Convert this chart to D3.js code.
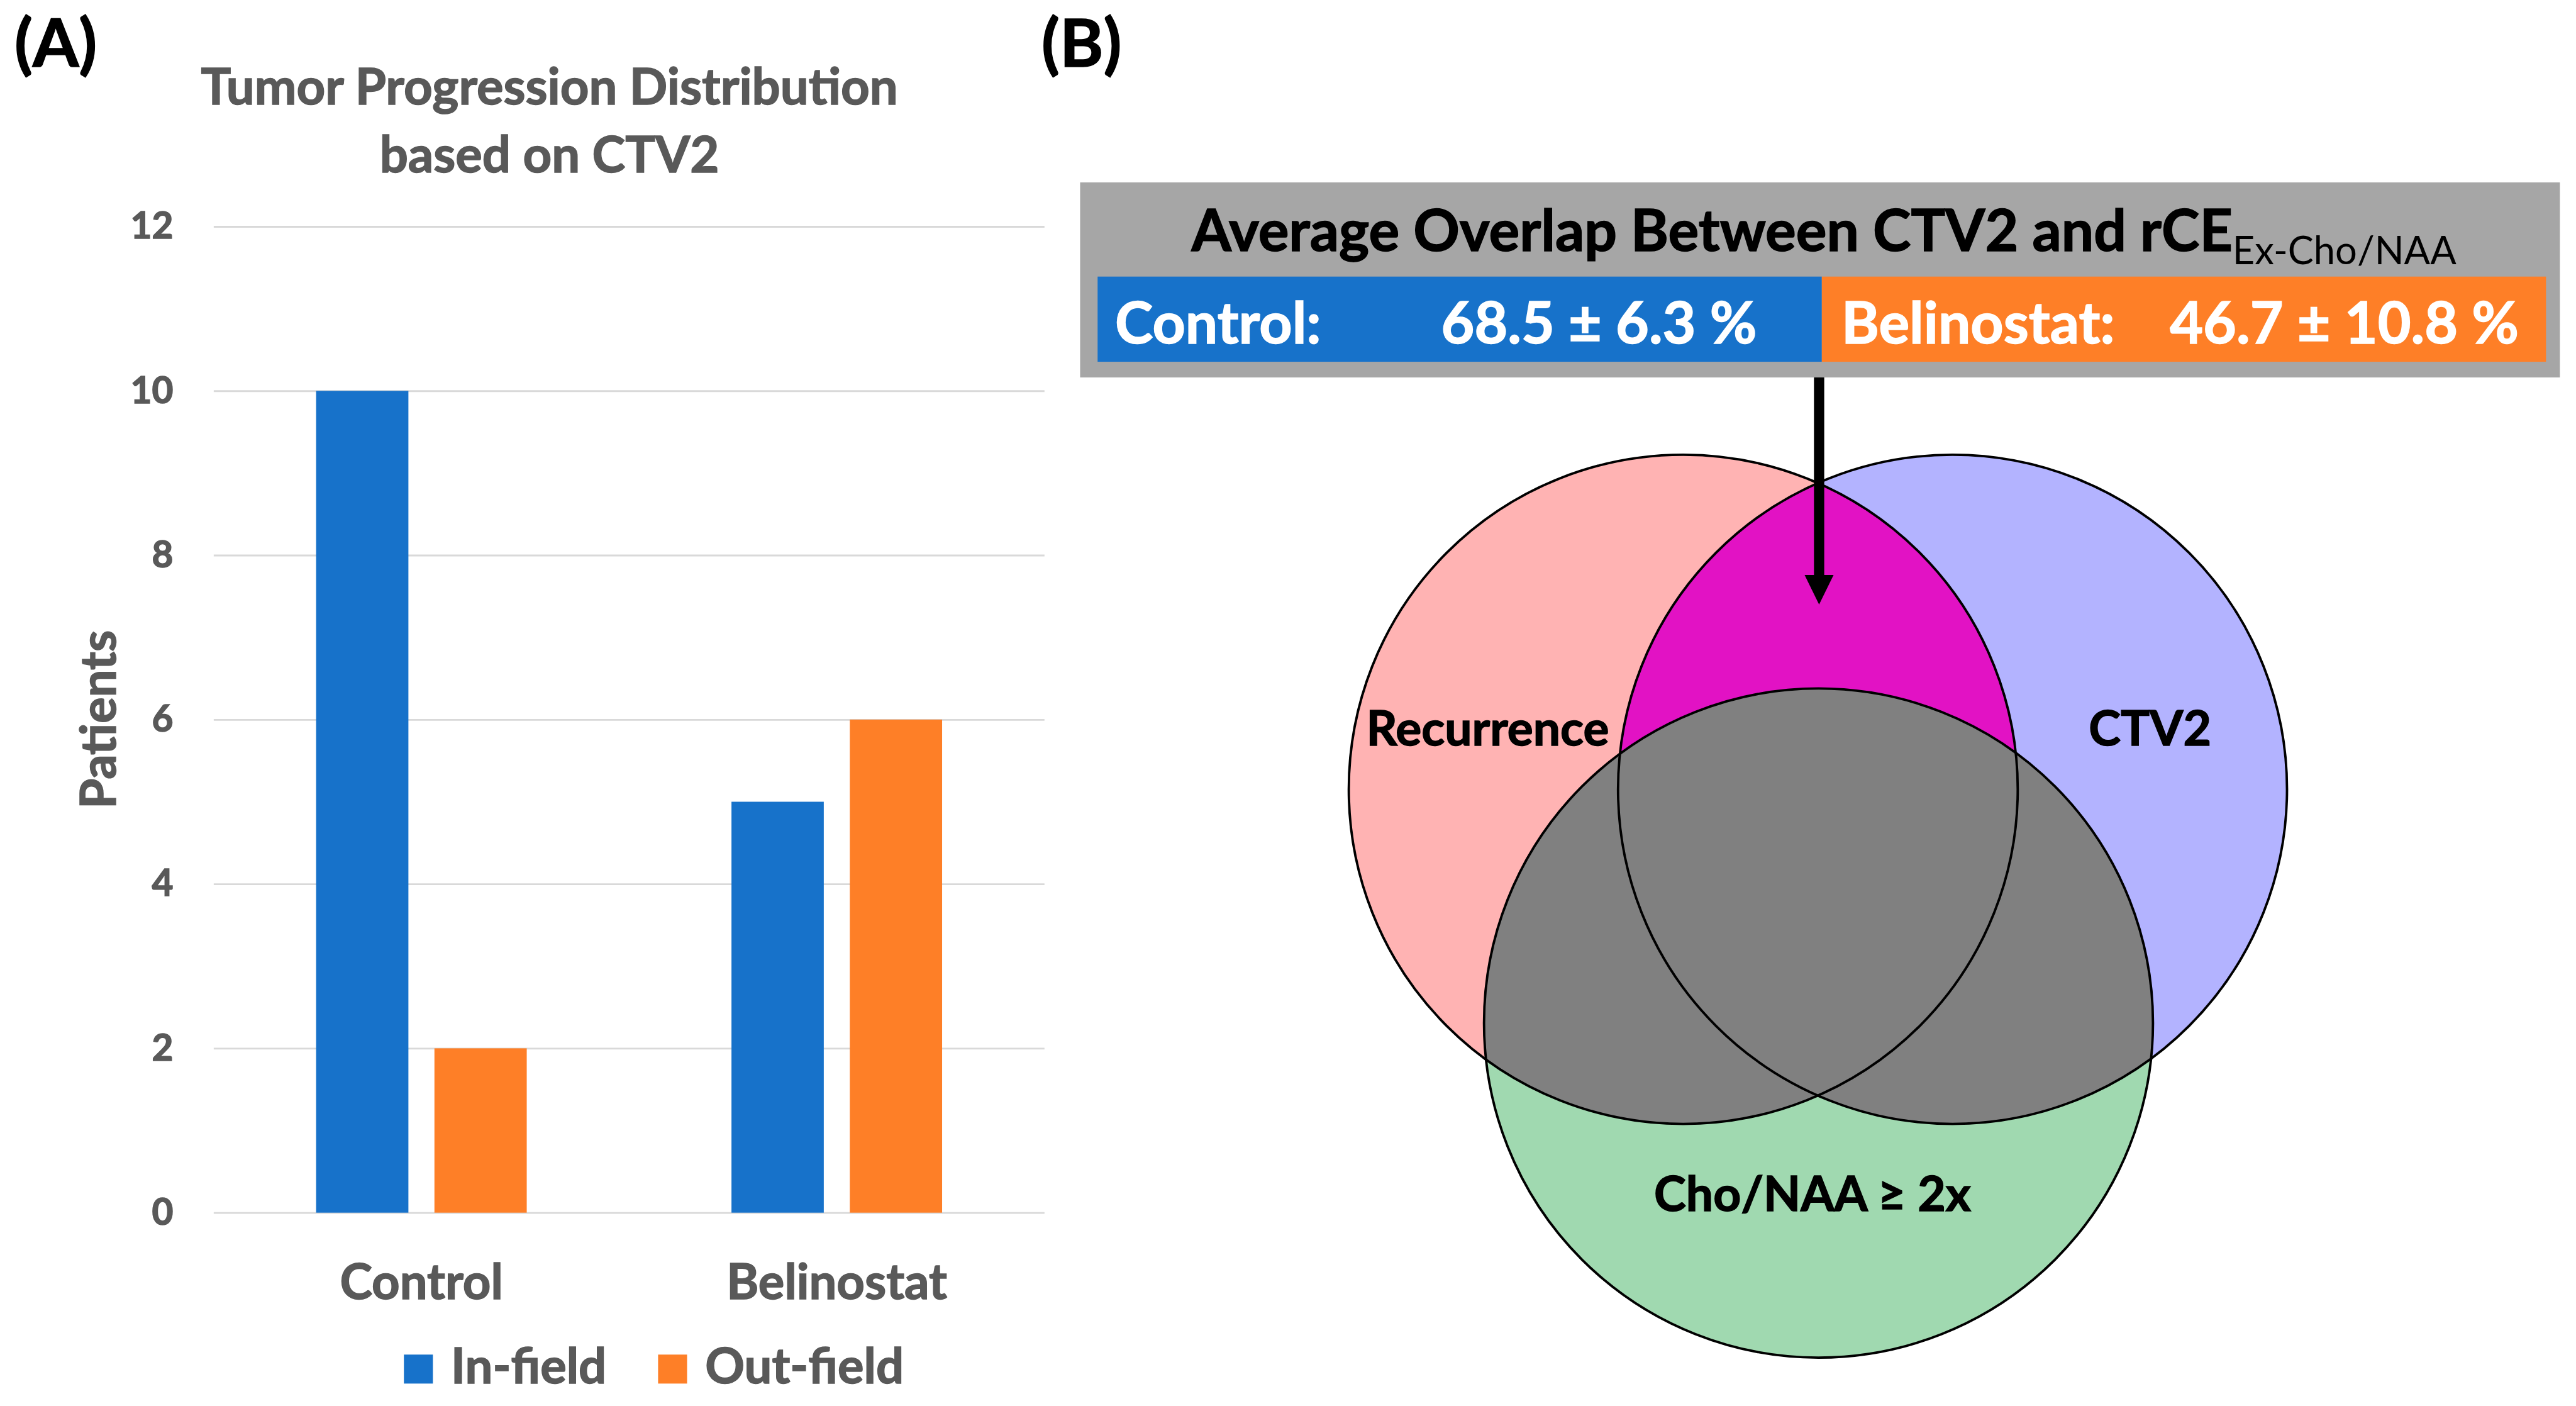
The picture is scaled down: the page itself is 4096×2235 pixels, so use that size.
<!DOCTYPE html>
<html>
<head>
<meta charset="utf-8">
<script src="https://cdn.jsdelivr.net/npm/d3@7"></script>
<style>
  html, body { margin: 0; padding: 0; background: #fff; }
  svg { display: block; }
</style>
</head>
<body>
<div id="fig"></div>
<script>
// panel A data
const categories = ["Control", "Belinostat"];
const seriesNames = ["In-field", "Out-field"];
const inField = [10, 5];
const outField = [2, 6];
const yTicks = [0, 2, 4, 6, 8, 10, 12];
const seriesColors = ["#1772CA", "#FE7F27"];

// panel B data
const overlapGroups = ["Control:", "Belinostat:"];
const overlapMean = [68.5, 46.7];
const overlapSd = [6.3, 10.8];
const vennSets = ["Recurrence", "CTV2", "Cho/NAA \u2265 2x"];
const vennFill = ["#FFB3B3", "#B3B3FF", "#A0D9B0"];

const W = 4096, H = 2235, k = 0.96;
const font = "Lato, 'Open Sans', sans-serif";
const grey = "#595959";

// lato bold is a touch lighter than the original, thicken it a little
function heavy(sel, col) {
  return sel.attr("font-family", font).attr("font-weight", 700)
      .attr("stroke", col).attr("stroke-width", 1.6).attr("paint-order", "stroke");
}

const svg = d3.select("#fig").append("svg")
    .attr("width", W).attr("height", H);
// everything laid out in reference pixels, then scaled down
const root = svg.append("g").attr("transform", "scale(" + k + ")");

// ---------- (A) bar chart ----------
const plot = { left: 354, right: 1730, top: 375, bottom: 2008 };

const y = d3.scaleLinear().domain([0, 12]).range([plot.bottom, plot.top]);
const x = d3.scaleBand().domain(categories).range([plot.left, plot.right]);
const xs = d3.scaleBand().domain(seriesNames).range([0, x.bandwidth()])
    .paddingInner(0.22).paddingOuter(0.865);

const A = root.append("g");

heavy(A.append("text").attr("x", 24).attr("y", 110), "#000")
    .attr("font-size", 110).text("(A)");

heavy(A.append("text").attr("x", 910).attr("y", 173).attr("text-anchor", "middle"), grey)
    .attr("font-size", 83).attr("fill", grey).text("Tumor Progression Distribution");
heavy(A.append("text").attr("x", 910).attr("y", 285).attr("text-anchor", "middle"), grey)
    .attr("font-size", 83).attr("fill", grey).text("based on CTV2");

const yAxis = A.append("g").attr("transform", "translate(" + plot.left + ",0)")
    .call(d3.axisLeft(y).tickValues(yTicks).tickSize(-(plot.right - plot.left)).tickPadding(67));
yAxis.select(".domain").remove();
yAxis.selectAll(".tick line").attr("stroke", "#D9D9D9").attr("stroke-width", 3);
heavy(yAxis.selectAll(".tick text"), grey).attr("fill", grey).attr("font-size", 61);

const rows = categories.map((c, i) => ({ cat: c, vals: [inField[i], outField[i]] }));
const grp = A.append("g").selectAll("g").data(rows).join("g")
    .attr("transform", d => "translate(" + x(d.cat) + ",0)");
grp.selectAll("rect").data(d => d.vals.map((v, j) => ({ s: seriesNames[j], v: v, j: j })))
    .join("rect")
    .attr("x", d => xs(d.s))
    .attr("width", xs.bandwidth())
    .attr("y", d => y(d.v))
    .attr("height", d => y(0) - y(d.v))
    .attr("fill", d => seriesColors[d.j]);

const xAxis = A.append("g").attr("transform", "translate(0," + plot.bottom + ")")
    .call(d3.axisBottom(x).tickSize(0));
xAxis.select(".domain").remove();
heavy(xAxis.selectAll(".tick text").attr("y", 143).attr("dy", null), grey)
    .attr("fill", grey).attr("font-size", 81);

heavy(A.append("text").attr("transform", "translate(192," + (plot.top + plot.bottom) / 2 + ") rotate(-90)")
    .attr("text-anchor", "middle"), grey)
    .attr("fill", grey).attr("font-size", 81)
    .text("Patients");

const legendX = [669, 1090];
const leg = A.append("g").selectAll("g").data(seriesNames).join("g")
    .attr("transform", (d, i) => "translate(" + legendX[i] + ",2243)");
leg.append("rect").attr("width", 48).attr("height", 48).attr("fill", (d, i) => seriesColors[i]);
heavy(leg.append("text").attr("x", 78).attr("y", 48), grey)
    .attr("fill", grey).attr("font-size", 81)
    .text(d => d);

// ---------- (B) overlap box + venn ----------
const B = root.append("g");

heavy(B.append("text").attr("x", 1725).attr("y", 110), "#000")
    .attr("font-size", 110).text("(B)");

B.append("rect").attr("x", 1789).attr("y", 302).attr("width", 2451).attr("height", 323)
    .attr("fill", "#A6A6A6");

const boxTitle = heavy(B.append("text").attr("x", 3021).attr("y", 416).attr("text-anchor", "middle"), "#000")
    .attr("font-size", 95);
boxTitle.append("tspan").text("Average Overlap Between CTV2 and rCE");
boxTitle.append("tspan").attr("dy", 22).attr("font-size", 64).attr("font-weight", 400)
    .attr("stroke-width", 0).text("Ex-Cho/NAA");

const cell = d3.scaleBand().domain(overlapGroups).range([1818, 4217]);
const cellLabelX = [1847, 3050];
const cellValueX = [2387, 3594];
const cells = B.append("g").selectAll("g").data(overlapGroups).join("g");
cells.append("rect")
    .attr("x", d => cell(d)).attr("y", 458)
    .attr("width", cell.bandwidth()).attr("height", 141)
    .attr("fill", (d, i) => seriesColors[i]);
heavy(cells.append("text").attr("x", (d, i) => cellLabelX[i]).attr("y", 569), "#fff")
    .attr("fill", "#fff").attr("font-size", 95)
    .text(d => d);
heavy(cells.append("text").attr("x", (d, i) => cellValueX[i]).attr("y", 569), "#fff")
    .attr("fill", "#fff").attr("font-size", 95)
    .text((d, i) => overlapMean[i].toFixed(1) + " \u00B1 " + overlapSd[i].toFixed(1) + " %");

// venn layout (reference pixels)
const vr = 554;
const vc = [[2788, 1307], [3234, 1307], [3012, 1694]];
const defs = svg.append("defs");
vc.forEach((c, i) => {
  defs.append("clipPath").attr("id", "clip" + i)
    .append("circle").attr("cx", c[0]).attr("cy", c[1]).attr("r", vr);
});

const V = B.append("g");
V.selectAll("circle.base").data(vc.slice(0, 2)).join("circle").attr("class", "base")
    .attr("cx", d => d[0]).attr("cy", d => d[1]).attr("r", vr)
    .attr("fill", (d, i) => vennFill[i]);
// recurrence ∩ CTV2
V.append("circle").attr("cx", vc[1][0]).attr("cy", vc[1][1]).attr("r", vr)
    .attr("clip-path", "url(#clip0)").attr("fill", "#E212C4");
V.append("circle").attr("cx", vc[2][0]).attr("cy", vc[2][1]).attr("r", vr)
    .attr("fill", vennFill[2]);
// anything inside Cho/NAA and one of the others
V.append("g").attr("clip-path", "url(#clip2)")
  .selectAll("circle").data(vc.slice(0, 2)).join("circle")
    .attr("cx", d => d[0]).attr("cy", d => d[1]).attr("r", vr).attr("fill", "#808080");
V.selectAll("circle.edge").data(vc).join("circle").attr("class", "edge")
    .attr("cx", d => d[0]).attr("cy", d => d[1]).attr("r", vr)
    .attr("fill", "none").attr("stroke", "#000").attr("stroke-width", 4);

const vennLabelPos = [[2464, 1234], [3561, 1234], [3002, 2005]];
heavy(V.selectAll("text").data(vennSets).join("text")
    .attr("x", (d, i) => vennLabelPos[i][0]).attr("y", (d, i) => vennLabelPos[i][1])
    .attr("text-anchor", "middle"), "#000")
    .attr("font-size", 80)
    .text(d => d);

// arrow from box down into the magenta region
B.append("line").attr("x1", 3013).attr("x2", 3013).attr("y1", 625).attr("y2", 960)
    .attr("stroke", "#000").attr("stroke-width", 17);
B.append("path").attr("d", d3.line()([[2989, 952], [3037, 952], [3013, 1001]]) + "Z")
    .attr("fill", "#000");
</script>
</body>
</html>
